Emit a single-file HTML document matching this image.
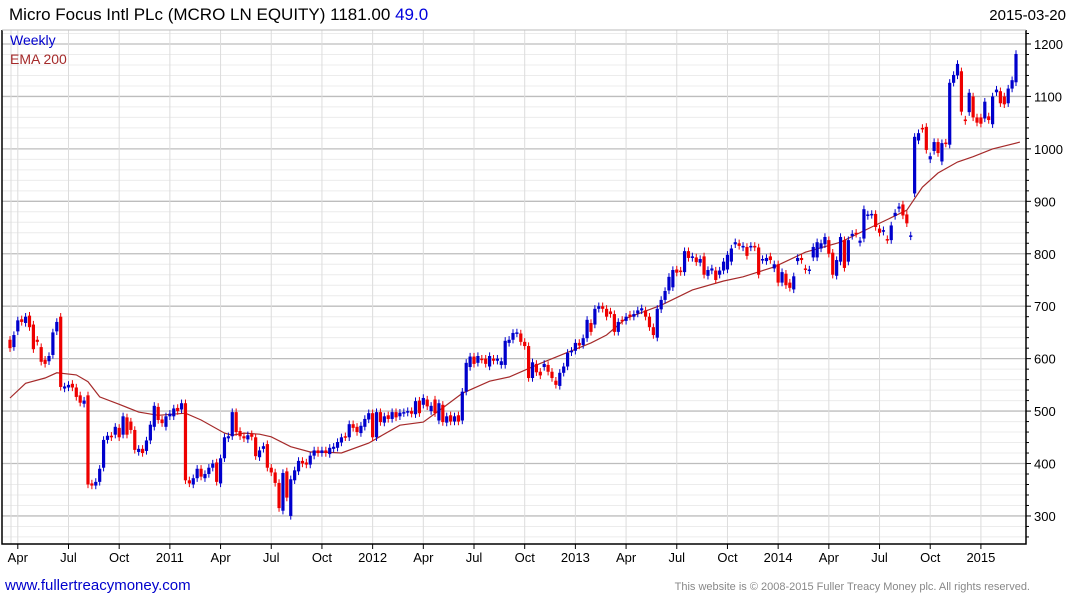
<!DOCTYPE html>
<html><head><meta charset="utf-8"><style>
body{margin:0;background:#fff;width:1075px;height:600px;overflow:hidden;font-family:"Liberation Sans",Arial,sans-serif}
svg{display:block}
</style></head><body>
<svg id="chart" width="1075" height="600" xmlns="http://www.w3.org/2000/svg">
<text x="9" y="20" font-size="17" fill="#000">Micro Focus Intl PLc (MCRO LN EQUITY) 1181.00 <tspan fill="#0000dd">49.0</tspan></text>
<text x="1066" y="20" font-size="15" text-anchor="end" fill="#000">2015-03-20</text>
<g id="grid"></g>
<g id="ema"></g>
<g id="candles"></g>
<g id="axes"></g>
<text x="10" y="45" font-size="14" fill="#0000cc">Weekly</text>
<text x="10" y="64" font-size="14" fill="#a52a2a">EMA 200</text>
<text x="5" y="590" font-size="15" fill="#0000cc">www.fullertreacymoney.com</text>
<text x="1030" y="590" font-size="11" text-anchor="end" fill="#888">This website is © 2008-2015 Fuller Treacy Money plc. All rights reserved.</text>
</svg>
<script>
const opens=[636,622,652,675,668,682,665,636,622,598,595,607,652,680,
543,545,552,545,530,514,530,362,358,365,392,445,453,455,468,455,488,480,464,422,428,424,444,470,508,484,470,490,490,506,503,515,368,360,372,390,372,380,392,402,362,410,448,452,498,462,452,446,456,450,412,428,437,392,383,363,310,385,300,368,385,405,402,398,415,425,420,425,418,
428,430,440,452,450,475,470,458,470,484,496,450,498,478,492,485,498,490,496,497,500,494,520,512,522,500,522,482,512,478,492,480,492,482,537,584,604,592,600,600,585,600,596,588,588,630,636,648,648,632,624,563,590,575,584,588,575,558,548,573,585,612,615,630,626,639,668,665,695,700,695,690,685,651,674,672,684,680,686,692,692,680,660,640,694,
712,730,736,770,768,765,805,792,793,783,795,758,768,768,760,768,770,785,818,820,812,813,812,815,812,788,786,795,772,780,745,762,745,732,786,792,772,768,793,793,810,818,826,802,758,785,826,785,834,840,821,829,872,874,876,848,842,828,826,872,886,894,875,833,915,1016,1040,1042,980,996,1013,976,1012,1008,1126,1140,1148,1056,1070,1100,1060,1060,1058,1062,1047,1108,1110,1100,1087,1115,1127];
const closes=[620,645,673,670,680,660,618,632,594,590,605,650,670,546,
547,550,545,527,516,520,360,358,365,390,445,453,450,470,450,490,455,464,426,428,420,444,474,510,483,477,490,495,505,500,515,368,362,372,390,375,380,392,400,365,410,450,452,498,460,452,448,454,451,414,425,433,392,383,363,315,382,335,370,387,405,400,398,415,425,420,425,420,430,
432,441,450,450,475,468,460,472,485,496,450,498,479,490,485,498,488,497,498,500,495,519,496,525,509,510,496,515,479,490,480,490,480,537,592,604,590,605,598,590,605,596,600,595,634,636,649,650,632,624,563,593,574,568,590,575,563,550,573,585,611,615,630,625,639,674,651,695,700,695,680,685,651,670,672,680,680,685,692,696,680,660,645,695,712,
729,756,769,764,765,805,792,795,784,790,760,769,772,750,768,785,798,810,822,815,815,796,815,812,760,790,792,788,780,745,765,740,735,757,792,788,769,770,813,822,820,832,800,760,788,832,773,826,838,838,825,885,875,876,851,840,845,826,854,878,890,873,858,835,1023,1030,1038,998,986,1013,992,1011,1010,1126,1141,1162,1071,1053,1107,1060,1050,1048,1090,1055,1100,1113,1087,1085,1115,1131,1181];
const emaWeeks=[0,4,9,12,17,20,23,28,33,38,45,49,55,57,60,64,67,72,77,80,85,92,95,100,106,111,116,123,128,136,142,149,153,158,167,175,183,188,196,204,213,221,230,234,238,243,247,252,259];
const emaValues=[525,553,563,573,569,556,527,513,498,492,496,483,458,454,458,456,451,432,422,422,420,439,452,473,479,506,534,557,565,591,609,630,645,677,702,731,748,756,775,803,822,851,883,927,954,975,985,1000,1013];
const yTicks=[300,400,500,600,700,800,900,1000,1100,1200];
const xLabels=["Apr","Jul","Oct","2011","Apr","Jul","Oct","2012","Apr","Jul","Oct","2013","Apr","Jul","Oct","2014","Apr","Jul","Oct","2015"];
const xLabelWeeks=[2,15,28,41,54,67,80,93,106,119,132,145,158,171,184,197,210,223,236,249];

const NS="http://www.w3.org/2000/svg";
const L=2,R=1026,T=30,B=544;
const x0=10,x1=1016,N=closes.length;
function xs(i){return x0+i*(x1-x0)/(N-1);}
function ys(p){return 44+(1200-p)*0.5244;}
function mk(tag,attrs,parent){const e=document.createElementNS(NS,tag);for(const k in attrs)e.setAttribute(k,attrs[k]);parent.appendChild(e);return e;}
const grid=document.getElementById('grid'),axes=document.getElementById('axes'),cg=document.getElementById('candles'),eg=document.getElementById('ema');
for(let p=260;p<=1240;p+=20){const y=ys(p);if(y<T||y>B)continue;
 const major=p%100===0;
 const ln=mk('line',{x1:L,x2:R,y1:y,y2:y,stroke:major?'#bdbdbd':'#ececec','stroke-width':major?1.3:1},grid);
 
 
 const tk=mk('line',{x1:R,x2:R+(major?5:3),y1:y,y2:y,stroke:'#000'},axes);
 
 
}
mk('line',{x1:11,x2:11,y1:T,y2:B,stroke:'#dcdcdc'},grid);
xLabelWeeks.forEach((w,i)=>{const x=xs(w);
 const ln=mk('line',{x1:x,x2:x,y1:T,y2:B,stroke:'#dcdcdc'},grid);
 
 
 const tk=mk('line',{x1:x,x2:x,y1:B,y2:B+5,stroke:'#000'},axes);
 
 
 const t=mk('text',{x:x,y:562,'font-size':13,'text-anchor':'middle',fill:'#000'},axes);
 t.textContent=xLabels[i];
 
 
});
yTicks.forEach(p=>{const t=mk('text',{x:1034,y:ys(p)+5,'font-size':13,fill:'#000'},axes);
 t.textContent=p;
 
 
});
const fr=mk('path',{d:`M${L},${T} L${L},${B} L${R},${B} L${R},${T}`,fill:'none',stroke:'#000','stroke-width':1.5},axes);


mk('line',{x1:L,x2:R,y1:T,y2:T,stroke:'#bbb'},axes);
let d='';emaWeeks.forEach((w,i)=>{d+=(i?'L':'M')+xs(w).toFixed(1)+','+ys(emaValues[i]).toFixed(1);});
const ep=mk('path',{d:d,fill:'none',stroke:'#a52a2a','stroke-width':1.2},eg);


for(let i=0;i<N;i++){const o=opens[i],c=closes[i],up=c>=o,col=up?'#0000cc':'#ee0000';
 const x=xs(i),hi=Math.max(o,c),lo=Math.min(o,c),ext=7;
 const g=mk('g',{},cg);
 
 
 mk('line',{x1:x,x2:x,y1:ys(hi+ext),y2:ys(lo-ext),stroke:col,'stroke-width':1},g);
 const h=Math.max(1.5,ys(lo)-ys(hi));
 mk('rect',{x:x-1.6,y:ys(hi),width:3.2,height:h,fill:col},g);
}
</script>
</body></html>
